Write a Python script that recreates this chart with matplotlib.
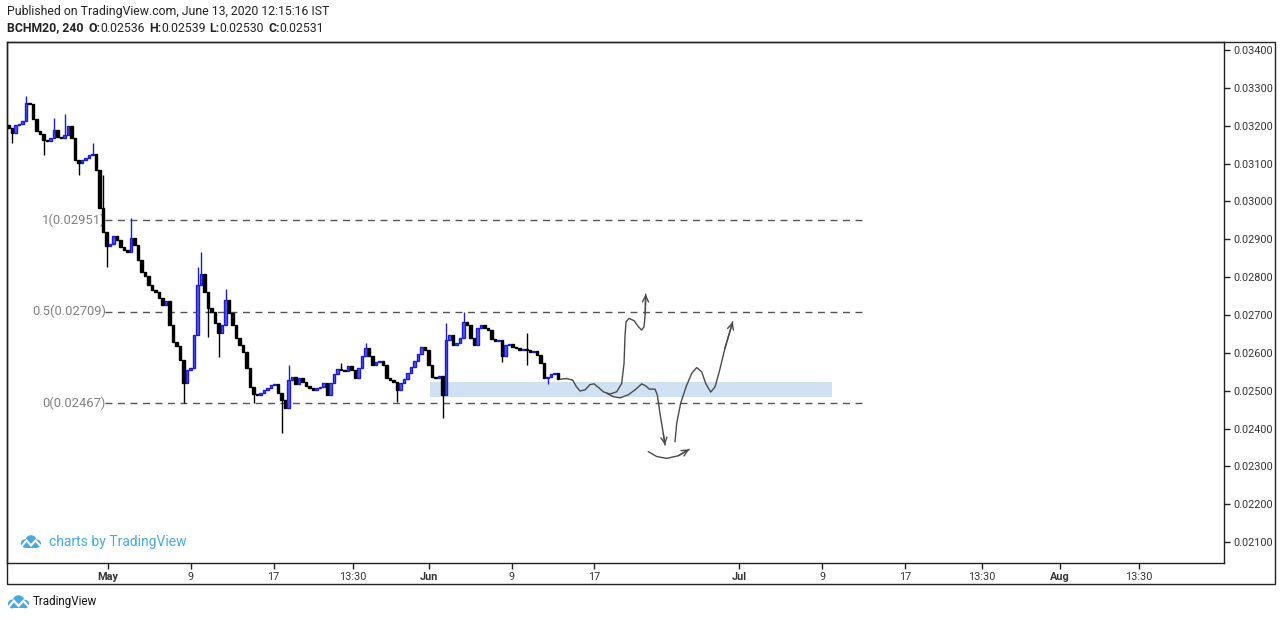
import matplotlib
matplotlib.use('Agg')
import matplotlib.pyplot as plt
from matplotlib.patches import Rectangle, Circle

# ---------------- data ----------------
closes = [
    0.03194, 0.03181, 0.03202, 0.03205, 0.03212, 0.03260, 0.03257, 0.03218, 0.03186, 0.03178,
    0.03162, 0.03160, 0.03168, 0.03189, 0.03170, 0.03168, 0.03175, 0.03199, 0.03168, 0.03109,
    0.03101, 0.03109, 0.03115, 0.03123, 0.03125, 0.03083, 0.02983, 0.02919, 0.02882, 0.02887,
    0.02909, 0.02898, 0.02880, 0.02872, 0.02866, 0.02903, 0.02885, 0.02845, 0.02814, 0.02803,
    0.02779, 0.02766, 0.02761, 0.02745, 0.02726, 0.02737, 0.02673, 0.02629, 0.02618, 0.02581,
    0.02520, 0.02555, 0.02560, 0.02647, 0.02779, 0.02808, 0.02761, 0.02718, 0.02708, 0.02679,
    0.02652, 0.02673, 0.02740, 0.02705, 0.02673, 0.02639, 0.02621, 0.02602, 0.02560, 0.02510,
    0.02491, 0.02489, 0.02494, 0.02502, 0.02507, 0.02515, 0.02518, 0.02494, 0.02475, 0.02454,
    0.02528, 0.02536, 0.02518, 0.02533, 0.02523, 0.02512, 0.02507, 0.02502, 0.02507, 0.02510,
    0.02520, 0.02489, 0.02520, 0.02544, 0.02557, 0.02555, 0.02552, 0.02565, 0.02555, 0.02533,
    0.02560, 0.02592, 0.02613, 0.02592, 0.02568, 0.02576, 0.02578, 0.02568, 0.02533, 0.02528,
    0.02523, 0.02502, 0.02520, 0.02531, 0.02547, 0.02563, 0.02578, 0.02597, 0.02615, 0.02607,
    0.02568, 0.02536, 0.02533, 0.02539, 0.02489, 0.02634, 0.02647, 0.02621, 0.02626, 0.02639,
    0.02681, 0.02673, 0.02639, 0.02621, 0.02666, 0.02673, 0.02666, 0.02660, 0.02637, 0.02631,
    0.02634, 0.02592, 0.02621, 0.02623, 0.02615, 0.02613, 0.02607, 0.02610, 0.02607, 0.02602,
    0.02605, 0.02594, 0.02573, 0.02533, 0.02536, 0.02544, 0.02547, 0.02531,
]
first_open = 0.03202

high_idx = [5, 13, 16, 24, 27, 35, 54, 55, 62, 80, 95, 102, 125, 130, 148]
high_val = [0.03278, 0.03220, 0.03231, 0.03154, 0.03070, 0.02956, 0.02827, 0.02866,
            0.02769, 0.02568, 0.02573, 0.02626, 0.02679, 0.02708, 0.02652]
low_idx = [1, 10, 20, 28, 50, 57, 60, 70, 78, 111, 124, 141, 148, 154]
low_val = [0.03154, 0.03123, 0.03070, 0.02827, 0.02467, 0.02642, 0.02589, 0.02467,
           0.02388, 0.02470, 0.02428, 0.02576, 0.02568, 0.02518]

fib_levels = [0.02951, 0.02709, 0.02467]
fib_labels = ['1(0.02951)', '0.5(0.02709)', '0(0.02467)']
fib_start, fib_end = -0.3, 72.85

zone_x0, zone_x1 = 31.1, 69.95
zone_lo, zone_hi = 0.02484, 0.02522

price_ticks = [0.021, 0.022, 0.023, 0.024, 0.025, 0.026, 0.027,
               0.028, 0.029, 0.030, 0.031, 0.032, 0.033, 0.034]
time_tick_pos = [0, 8, 16, 23.7, 31, 39, 47, 61, 69, 77, 84.4, 92, 99.6]
time_tick_labels = ['May', '9', '17', '13:30', 'Jun', '9', '17', 'Jul', '9', '17',
                    '13:30', 'Aug', '13:30']
month_labels = {'May', 'Jun', 'Jul', 'Aug'}

# hand-drawn projection paths (day, price)
path_up_x = [43.67, 44.32, 44.90, 45.22, 45.60, 46.09, 46.57, 46.96, 47.37, 47.86, 48.50,
             49.15, 49.63, 49.86, 49.95, 50.05, 50.34, 50.82, 51.24, 51.57, 51.79, 51.91, 51.95]
path_up_y = [0.02530, 0.02532, 0.02528, 0.02512, 0.02499, 0.02502, 0.02516, 0.02518, 0.02509,
             0.02497, 0.02491, 0.02497, 0.02519, 0.02572, 0.02643, 0.02682, 0.02691, 0.02685,
             0.02669, 0.02660, 0.02669, 0.02704, 0.02755]
path_down_x = [48.18, 48.82, 49.47, 50.27, 50.92, 51.57, 51.98, 52.30, 52.85, 53.07, 53.33,
               53.65, 53.82]
path_down_y = [0.02493, 0.02484, 0.02481, 0.02489, 0.02502, 0.02518, 0.02512, 0.02504,
               0.02504, 0.02489, 0.02440, 0.02387, 0.02356]
path_rebound_x = [54.78, 54.95, 55.33, 55.85, 56.40, 56.88, 57.36, 57.75, 58.23, 58.65,
                  59.06, 59.61, 60.36]
path_rebound_y = [0.02365, 0.02414, 0.02467, 0.02510, 0.02546, 0.02561, 0.02550, 0.02519,
                  0.02496, 0.02510, 0.02550, 0.02612, 0.02682]
path_arc_x = [52.20, 53.01, 53.98, 55.10, 56.16]
path_arc_y = [0.02339, 0.02326, 0.02321, 0.02328, 0.02345]

# ---------------- layout ----------------
W, H = 1280, 620
bar_start = (8.5 - 108) / 10.35
bar_step = 3.5 / 10.35
x_left, x_right = (7 - 108) / 10.35, (1224 - 108) / 10.35
y_bottom, y_top = 0.035321 - 0.00002642 * 563, 0.035321 - 0.00002642 * 42

UP = '#1c1cd2'
UP_FILL = '#5a5ae0'
DOWN = '#000000'
WM = '#4aa8dc'
FRAME = '#222222'

plt.rcParams['font.family'] = ['Roboto', 'DejaVu Sans']

fig = plt.figure(figsize=(W / 100, H / 100), dpi=100)
fig.patch.set_facecolor('white')

ax = fig.add_axes([7 / W, 1 - 563 / H, (1224 - 7) / W, (563 - 42) / H])
ax.set_xlim(x_left, x_right)
ax.set_ylim(y_bottom, y_top)
for s in ax.spines.values():
    s.set_color(FRAME)
    s.set_linewidth(1.0)

# candles
opens = [first_open] + closes[:-1]
highs = [max(o, c) for o, c in zip(opens, closes)]
lows = [min(o, c) for o, c in zip(opens, closes)]
for i, v in zip(high_idx, high_val):
    highs[i] = max(highs[i], v)
for i, v in zip(low_idx, low_val):
    lows[i] = min(lows[i], v)

xs = [bar_start + bar_step * i for i in range(len(closes))]
body_w = bar_step * 0.8
min_body = 0.000018
for x, o, h, l, c in zip(xs, opens, highs, lows, closes):
    up = c >= o
    col = UP if up else DOWN
    ax.vlines(x, l, h, colors=col, linewidth=1.0, zorder=3)
    bot = min(o, c)
    hgt = max(abs(c - o), min_body)
    ax.add_patch(Rectangle((x - body_w / 2, bot), body_w, hgt,
                           facecolor=UP_FILL if up else col,
                           edgecolor=col, linewidth=1.0, zorder=4))

# zone
ax.add_patch(Rectangle((zone_x0, zone_lo), zone_x1 - zone_x0, zone_hi - zone_lo,
                       facecolor='#cfe1f3', edgecolor='none', zorder=1))

# fib lines
for lvl, lab in zip(fib_levels, fib_labels):
    ax.plot([fib_start, fib_end], [lvl, lvl], color='#555555', lw=1.0,
            dashes=(5, 4), zorder=2)
    ax.text(fib_start + 0.1, lvl, lab, ha='right', va='center', fontsize=9.4,
            color='#808080', zorder=2)

# drawn projections
for px_, py_ in [(path_up_x, path_up_y), (path_down_x, path_down_y),
                 (path_rebound_x, path_rebound_y), (path_arc_x, path_arc_y)]:
    ax.plot(px_, py_, color='#4a4a4a', lw=1.0,
            solid_capstyle='round', solid_joinstyle='round', zorder=5)
    ax.annotate('', xy=(px_[-1], py_[-1]), xytext=(px_[-2], py_[-2]),
                arrowprops=dict(arrowstyle='->,head_length=0.45,head_width=0.22',
                                color='#4a4a4a', lw=1.0, shrinkA=0, shrinkB=0),
                zorder=5)

# axes ticks
ax.yaxis.tick_right()
ax.set_yticks(price_ticks)
ax.set_yticklabels(['%.5f' % v for v in price_ticks])
ax.tick_params(axis='y', length=4, width=1, color=FRAME, pad=3,
               labelsize=7.8, labelcolor='#333333')
ax.set_xticks(time_tick_pos)
ax.set_xticklabels(time_tick_labels)
ax.tick_params(axis='x', length=4, width=1, color=FRAME, pad=2.5,
               labelsize=7.8, labelcolor='#333333')
for t in ax.get_xticklabels():
    if t.get_text() in month_labels:
        t.set_fontweight('bold')

# overlay in pixel units (top-left origin)
ov = fig.add_axes([0, 0, 1, 1], zorder=10)
ov.set_xlim(0, W)
ov.set_ylim(H, 0)
ov.axis('off')
ov.patch.set_alpha(0)

ov.add_patch(Rectangle((7, 42), 1275 - 7, 584 - 42, fill=False, edgecolor=FRAME,
                       linewidth=1.0))

ov.text(7, 12, 'Published on TradingView.com, June 13, 2020 12:15:16 IST',
        fontsize=8.8, color='#222222', va='center', ha='left')
renderer = fig.canvas.get_renderer()
pieces = [('BCHM20, 240', 'bold', 5), ('O:', 'bold', 0), ('0.02536', 'normal', 4),
          ('H:', 'bold', 0), ('0.02539', 'normal', 4), ('L:', 'bold', 0),
          ('0.02530', 'normal', 4), ('C:', 'bold', 0), ('0.02531', 'normal', 0)]
cur = 7
for txt, wt, gap in pieces:
    t = ov.text(cur, 28, txt, fontsize=8.8, fontweight=wt, color='#222222',
                va='center', ha='left')
    bb = t.get_window_extent(renderer=renderer)
    cur += bb.width + gap


def logo(x0, y0, s, color):
    for cx, cy, r in [(6, 8.5, 4.2), (12, 5.8, 5.6), (18, 8.6, 4.0)]:
        ov.add_patch(Circle((x0 + cx * s, y0 + cy * s), r * s, facecolor=color,
                            edgecolor='none'))
    ov.add_patch(Rectangle((x0 + 6 * s, y0 + 8.5 * s), 12 * s, 4.2 * s, facecolor=color,
                           edgecolor='none'))
    zx = [x0 + 2.5 * s, x0 + 7.5 * s, x0 + 12 * s, x0 + 16.5 * s, x0 + 21.5 * s]
    zy = [y0 + 11.5 * s, y0 + 5.5 * s, y0 + 10.5 * s, y0 + 5.5 * s, y0 + 11 * s]
    ov.plot(zx, zy, color='white', lw=1.5 * s, solid_joinstyle='miter')


logo(19, 535, 1.0, WM)
ov.text(49, 542, 'charts by TradingView', fontsize=10, color=WM, va='center', ha='left')
logo(6, 595, 1.05, WM)
ov.text(33, 602, 'TradingView', fontsize=8.4, color='#111111', va='center', ha='left')

fig.savefig('out.png', dpi=100, facecolor='white')
